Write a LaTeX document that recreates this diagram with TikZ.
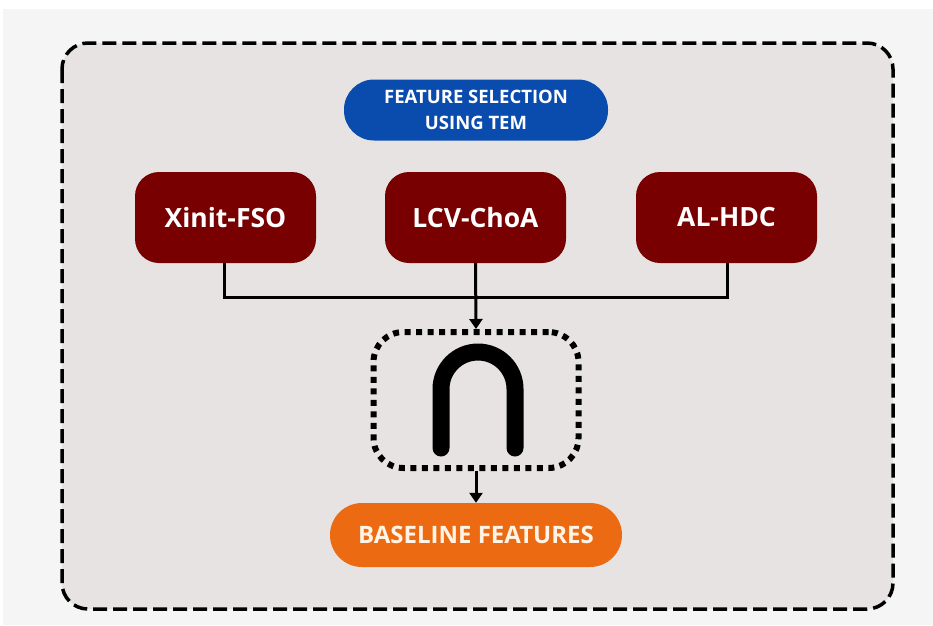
\documentclass[tikz,border=0pt]{standalone}
\usepackage{fontspec}
\setmainfont{Open Sans}
\usetikzlibrary{arrows.meta}
\definecolor{bgouter}{HTML}{F5F5F5}
\definecolor{panel}{HTML}{E7E3E2}
\definecolor{pillblue}{HTML}{0A4CAE}
\definecolor{boxred}{HTML}{780000}
\definecolor{pillorange}{HTML}{EC6A12}
\definecolor{cream}{HTML}{FFF4E6}
\begin{document}
\begin{tikzpicture}[x=1pt,y=-1pt,
  algo/.style={fill=boxred, rounded corners=24pt, text=white,
    font=\bfseries\fontsize{26.5}{30}\selectfont,
    minimum width=181pt, minimum height=91pt, inner sep=0pt},
  pill/.style={rounded corners=30pt, inner sep=0pt, align=center},
  conn/.style={draw=black, line width=3pt},
  arr/.style={conn, -{Triangle[length=10pt,width=13pt]}},
  panelbox/.style={draw=black, line width=3.5pt, dash pattern=on 14pt off 6pt, fill=panel, rounded corners=26pt},
  dotbox/.style={draw=black, line width=6pt, dash pattern=on 6pt off 5.5pt, rounded corners=30pt, minimum width=205pt, minimum height=136pt, inner sep=0pt}
]
\useasboundingbox (0,0) rectangle (933,625);
\fill[white] (0,0) rectangle (933,625);
\fill[bgouter] (3,9) rectangle (933,625);
\draw[panelbox] (62,43) rectangle (893,609);

\node[pill, fill=pillblue, text=white, minimum width=264pt, minimum height=61pt,
  font=\bfseries\fontsize{18.5}{26}\selectfont] (head) at (476,110)
  {FEATURE SELECTION\\USING TEM};

\node[algo] (xinit) at (225.5,217.5) {Xinit-FSO};
\node[algo] (lcv) at (475.5,217.5) {LCV-ChoA};
\node[algo] (alhdc) at (726.5,217.5) {AL-HDC};

\node[dotbox] (inter) at (476,400) {};
\draw[line width=17pt, line cap=round] (441,448) -- (441,389) arc (180:360:37) -- (515,448);

\node[pill, fill=pillorange, text=cream, minimum width=292pt, minimum height=64pt,
  rounded corners=32pt, font=\bfseries\fontsize{24}{28}\selectfont] (base) at (476,535)
  {BASELINE FEATURES};

\coordinate (j) at (476,297);
\draw[conn] ([xshift=-1.5pt]xinit.south) |- (j) -| ([xshift=1pt]alhdc.south);
\draw[arr] (lcv.south) -- (inter.north);
\draw[arr] (inter.south) -- (base.north);
\end{tikzpicture}
\end{document}
